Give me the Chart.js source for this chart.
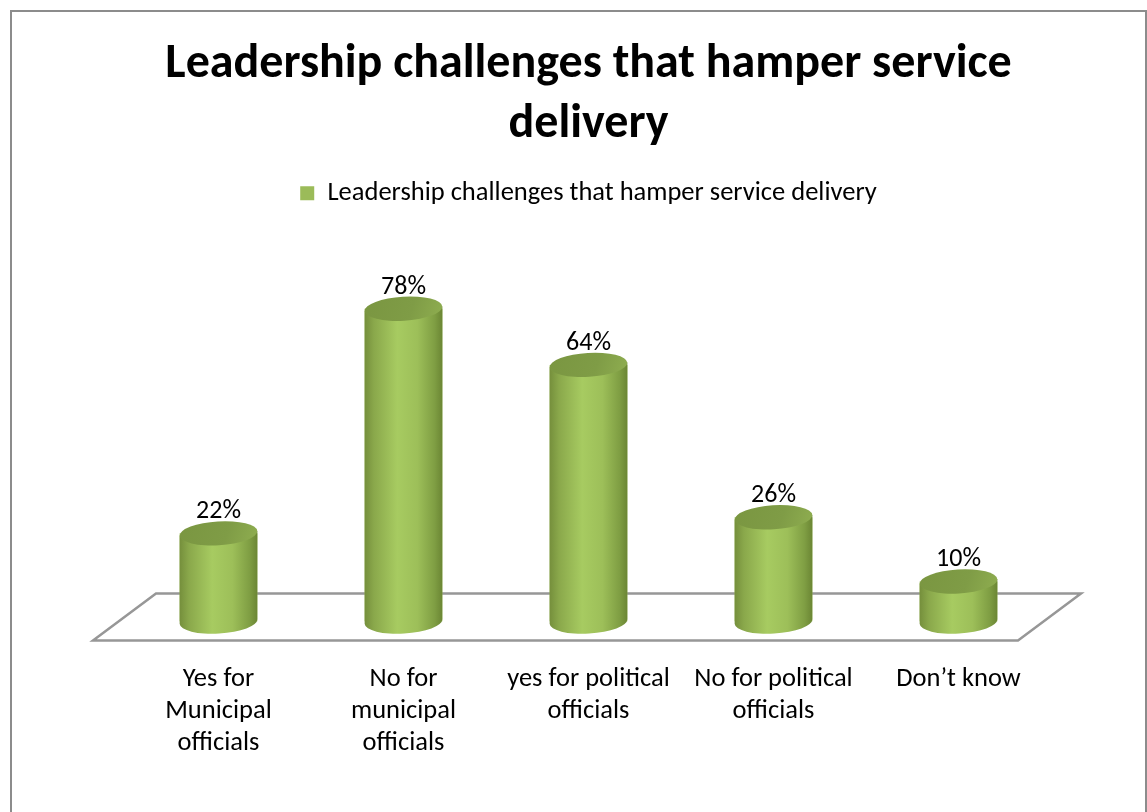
<!DOCTYPE html>
<html>
<head>
<meta charset="utf-8">
<script src="https://cdn.jsdelivr.net/npm/chart.js@4"></script>
<style>
html,body{margin:0;padding:0;background:#fff;}
#wrap{width:1147px;height:812px;position:relative;}
</style>
</head>
<body>
<div id="wrap"><canvas id="c" width="1147" height="812"></canvas></div>
<script>
var TITLE=['Leadership challenges that hamper service','delivery'];
var SERIES='Leadership challenges that hamper service delivery';
var CATS=[['Yes for','Municipal','officials'],['No for','municipal','officials'],['yes for political','officials'],['No for political','officials'],['Don\u2019t know']];
var VALS=[22,78,64,26,10];
var GREEN='#9BBB59';
var FONT="Carlito, 'Open Sans', sans-serif";

// page frame
var frame={
  id:'frame',
  beforeDraw:function(ch){
    var c=ch.ctx;c.save();
    c.strokeStyle='#8c8c8c';c.lineWidth=2;
    c.strokeRect(11,11,1135,820);
    c.restore();
  }
};

// extra gap under the legend
var legendGap={
  id:'legendGap',
  beforeInit:function(ch){
    var fit=ch.legend.fit;
    ch.legend.fit=function(){fit.bind(ch.legend)();this.height+=4;};
  }
};

// 3d floor under the bars
var floor={
  id:'floor',
  beforeDatasetsDraw:function(ch){
    var a=ch.chartArea,c=ch.ctx,b=ch.scales.y.getPixelForValue(0);
    c.save();
    c.strokeStyle='#979797';c.lineWidth=2.5;c.lineJoin='miter';
    c.beginPath();
    c.moveTo(a.left+30,b-28);
    c.lineTo(a.right+30,b-28);
    c.lineTo(a.right-33,b+19);
    c.lineTo(a.left-33,b+19);
    c.closePath();
    c.stroke();
    c.restore();
  }
};

// cylinders + value labels
var cyl={
  id:'cyl',
  afterDatasetsDraw:function(ch){
    var c=ch.ctx,meta=ch.getDatasetMeta(0);
    meta.data.forEach(function(el,i){
      var x=el.x,y=el.y,base=el.base,rx=el.width/2,ry=12,rot=-0.06;
      c.save();
      var g=c.createLinearGradient(x-rx,0,x+rx,0);
      g.addColorStop(0,'#758f3c');
      g.addColorStop(0.12,'#8aa84b');
      g.addColorStop(0.42,'#a7cb61');
      g.addColorStop(0.68,'#9dbf59');
      g.addColorStop(0.9,'#7f9e43');
      g.addColorStop(1,'#6b8634');
      c.fillStyle=g;
      c.beginPath();
      c.moveTo(x-rx,y+rx*Math.sin(-rot));
      c.lineTo(x-rx,base+rx*Math.sin(-rot));
      c.ellipse(x,base,rx,ry,rot,Math.PI,0,true);
      c.lineTo(x+rx,y-rx*Math.sin(-rot));
      c.closePath();
      c.fill();
      var g2=c.createLinearGradient(x-rx,y-ry,x+rx,y+ry);
      g2.addColorStop(0,'#7a9641');
      g2.addColorStop(0.6,'#7f9c46');
      g2.addColorStop(1,'#8fae50');
      c.fillStyle=g2;
      c.beginPath();
      c.ellipse(x,y,rx,ry,rot,0,Math.PI*2);
      c.fill();
      c.fillStyle='#000';
      c.font='26px '+FONT;
      c.textAlign='center';c.textBaseline='alphabetic';
      c.fillText(VALS[i]+'%',x,y-ry-3);
      c.restore();
    });
  }
};

new Chart(document.getElementById('c'),{
  type:'bar',
  data:{
    labels:CATS,
    datasets:[{
      label:SERIES,
      data:VALS,
      backgroundColor:GREEN,
      borderWidth:0,
      barPercentage:0.42,
      categoryPercentage:1
    }]
  },
  options:{
    responsive:false,
    animation:false,
    layout:{padding:{left:126,right:96,top:35,bottom:19}},
    plugins:{
      title:{
        display:true,
        text:TITLE,
        color:'#000',
        font:{family:FONT,size:48,weight:'bold',lineHeight:1.25},
        padding:{top:0,bottom:15}
      },
      legend:{
        display:true,
        labels:{
          color:'#000',
          font:{family:FONT,size:26.5},
          boxWidth:14,boxHeight:14,
          padding:10,
          useBorderRadius:false
        }
      },
      tooltip:{enabled:false}
    },
    scales:{
      x:{
        grid:{display:false},
        border:{display:false},
        ticks:{color:'#000',font:{family:FONT,size:26.5,lineHeight:1.2},padding:34,maxRotation:0,autoSkip:false}
      },
      y:{
        display:false,
        min:0,max:100
      }
    }
  },
  plugins:[frame,legendGap,floor,cyl]
});
</script>
</body>
</html>
